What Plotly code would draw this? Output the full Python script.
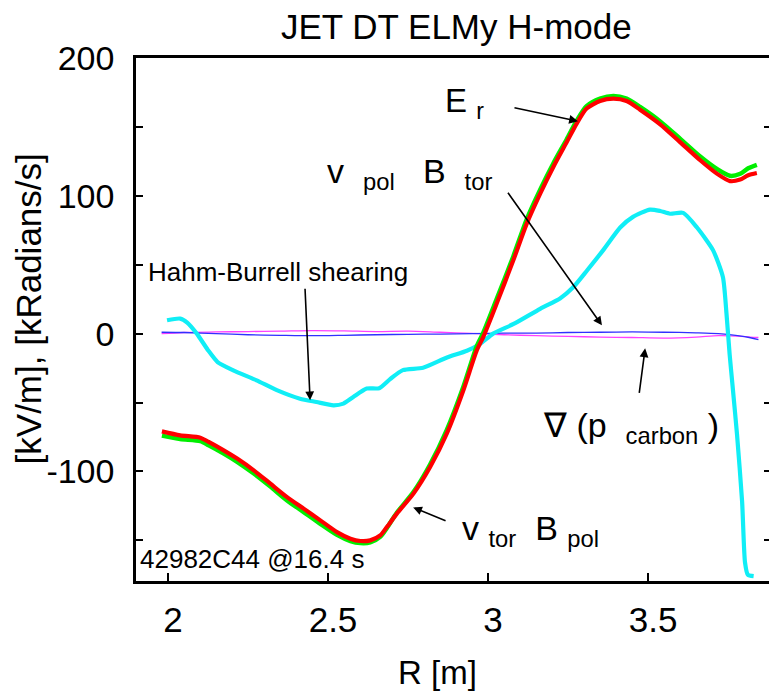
import plotly.graph_objects as go

# ---------------- data ----------------
er_x = [1.981, 2.038, 2.101, 2.127, 2.174, 2.216, 2.268, 2.32, 2.372, 2.424,
        2.476, 2.528, 2.57, 2.601, 2.632, 2.663, 2.684, 2.715, 2.767, 2.819,
        2.871, 2.923, 2.965, 2.985, 3.027, 3.079, 3.121, 3.163, 3.204, 3.246,
        3.277, 3.308, 3.35, 3.392, 3.433, 3.475, 3.538, 3.6, 3.663, 3.715,
        3.756, 3.788, 3.813, 3.84]
er_red = [-70.9, -73.8, -75.5, -78.6, -84.7, -90.7, -99.2, -108.9, -118.6, -127,
          -135.5, -144, -148.8, -150.5, -150, -146.4, -140.3, -130.6, -116.1, -96.8,
          -72.6, -41.1, -12.1, -2.5, 21.8, 53.2, 79.8, 101.6, 120.9, 139,
          152.4, 163.3, 168.8, 170.5, 168.8, 162.5, 151.9, 139, 125.8, 116.1,
          110.7, 111.8, 114.9, 116.5]
er_green = [-74, -76.5, -78, -81, -87, -93, -101.5, -111, -121, -129.5,
            -138, -146, -150.5, -152, -151.5, -147.5, -141, -130, -115, -95,
            -70, -38.5, -9, 0.5, 25, 56, 83, 104.5, 123.5, 141,
            154.5, 165, 170.5, 172.5, 170.5, 164.5, 154, 141.5, 128.5, 119.5,
            114.5, 116, 120, 122.5]

hb_x = [1.997, 2.038, 2.06, 2.09, 2.125, 2.155, 2.204, 2.277, 2.34, 2.4125,
        2.464, 2.517, 2.548, 2.579, 2.621, 2.66, 2.694, 2.734, 2.797, 2.87,
        2.934, 2.975, 3.016, 3.08, 3.163, 3.225, 3.266, 3.31, 3.36, 3.413,
        3.453, 3.506, 3.538, 3.569, 3.61, 3.653, 3.703, 3.734, 3.745, 3.755,
        3.765, 3.778, 3.794, 3.803, 3.812, 3.83]
hb_y = [9.7, 10.9, 8, 0, -12, -20.6, -26.6, -33.9, -41, -47.2,
        -49.6, -52, -50.8, -46, -39.9, -39.6, -33, -26.5, -24.8, -17.5,
        -12.4, -7.5, 0, 7, 18, 25.5, 33.6, 46, 60.6, 77,
        84.7, 90, 89, 87, 87.6, 77, 60.6, 41, 15, -15,
        -40, -73, -122, -166, -175, -176]

thin_x = [1.98, 2.05, 2.15, 2.25, 2.35, 2.45, 2.55, 2.65, 2.75, 2.85, 2.95,
          3.05, 3.15, 3.25, 3.35, 3.45, 3.55, 3.65, 3.72, 3.78, 3.82, 3.845]
vpol_btor = [1.0, 0.8, 0, -0.8, -1.2, -1.5, -1.2, -0.8, -0.5, -0.3, 0,
             0.3, 0.3, 0.8, 1.0, 1.2, 1.0, 0.6, 0, -1.5, -3, -4.4]
grad_p = [0, 0.8, 1.2, 1.5, 1.8, 2.2, 2.0, 1.5, 1.8, 1.0, 0.2,
          -0.8, -1.5, -2.0, -2.5, -2.8, -3.2, -2.5, -1.5, -1.8, -2.5, -2.8]

x_ticks = [2, 2.5, 3, 3.5]
x_tick_text = ["2", "2.5", "3", "3.5"]
y_ticks = [-100, 0, 100, 200]
y_tick_text = ["-100", "0", "100", "200"]

X_RANGE = [1.9, 3.878]
Y_RANGE = [-179.5, 200]

FONT = "Liberation Sans, Arial, sans-serif"

fig = go.Figure()
fig.add_trace(go.Scatter(x=thin_x, y=grad_p, mode="lines",
                         line=dict(color="#ff40ff", width=1.3, shape="spline", smoothing=0.8),
                         showlegend=False))
fig.add_trace(go.Scatter(x=thin_x, y=vpol_btor, mode="lines",
                         line=dict(color="#3030ff", width=1.3, shape="spline", smoothing=0.8),
                         showlegend=False))
fig.add_trace(go.Scatter(x=hb_x, y=hb_y, mode="lines",
                         line=dict(color="#10eef6", width=4.2, shape="spline", smoothing=0.6),
                         showlegend=False))
fig.add_trace(go.Scatter(x=er_x, y=er_green, mode="lines",
                         line=dict(color="#00ee00", width=4.5, shape="spline", smoothing=0.7),
                         showlegend=False))
fig.add_trace(go.Scatter(x=er_x, y=er_red, mode="lines",
                         line=dict(color="#ff0000", width=4.2, shape="spline", smoothing=0.7),
                         showlegend=False))
# invisible helper trace so the right-hand tick axis is drawn
fig.add_trace(go.Scatter(x=[None], y=[None], yaxis="y2", mode="lines",
                         showlegend=False, hoverinfo="skip"))

annots = []


def lab(text, x, y, size=33, xanchor="center", yanchor="middle"):
    annots.append(dict(text=text, x=x, y=y, xref="x", yref="y", showarrow=False,
                       xanchor=xanchor, yanchor=yanchor,
                       font=dict(family=FONT, size=size, color="black")))


NB = "\u00a0"
lab("E" + NB + "<sub>r</sub>", 2.925, 167)
lab("v" + NB + NB + "<sub>pol</sub>" + NB + NB + NB + "B" + NB + NB + "<sub>tor</sub>", 2.754, 116, size=34)
lab("Hahm-Burrell shearing", 2.344, 44.5, size=26)
lab("\u2207" + NB + "(p" + NB + NB + "<sub>carbon</sub>" + NB + ")", 3.447, -68, size=34)
lab("v" + NB + "<sub>tor</sub>" + NB + NB + "B" + NB + "<sub>pol</sub>", 3.134, -143, size=34)
lab("42982C44 @16.4 s", 2.2625, -163.8, size=26)


def arrow(x0, y0, x1, y1):
    annots.append(dict(text="", x=x1, y=y1, ax=x0, ay=y0, xref="x", yref="y",
                       axref="x", ayref="y", showarrow=True, arrowhead=2,
                       arrowsize=1.1, arrowwidth=1.6, arrowcolor="black", standoff=0))


arrow(3.078, 164.2, 3.281, 154.1)
arrow(3.059, 103.3, 3.356, 6.0)
arrow(2.428, 33.6, 2.444, -48.4)
arrow(3.472, -44.1, 3.491, -10.7)
arrow(2.872, -136.2, 2.766, -126.1)

# titles
annots.append(dict(text="JET DT ELMy H-mode", x=0.507, y=1.061, xref="paper", yref="paper",
                   showarrow=False, xanchor="center", yanchor="middle",
                   font=dict(family=FONT, size=35, color="black")))
annots.append(dict(text="R [m]", x=0.477, y=-0.174, xref="paper", yref="paper",
                   showarrow=False, xanchor="center", yanchor="middle",
                   font=dict(family=FONT, size=33, color="black")))
annots.append(dict(text="[kV/m], [kRadians/s]", x=-0.17, y=0.52, xref="paper", yref="paper",
                   showarrow=False, xanchor="center", yanchor="middle", textangle=-90,
                   font=dict(family=FONT, size=35, color="black")))

fig.update_layout(
    width=769, height=693,
    margin=dict(l=136, r=0, t=58, b=112),
    paper_bgcolor="white", plot_bgcolor="white",
    showlegend=False,
    annotations=annots,
    xaxis=dict(range=X_RANGE, tickvals=x_ticks, ticktext=x_tick_text,
               ticks="inside", ticklen=8, tickwidth=1.5, tickcolor="black",
               showline=True, linecolor="black", linewidth=2.5, mirror=True,
               showgrid=False, zeroline=False,
               ticklabelstandoff=6, ticklabelshift=5,
               tickfont=dict(family=FONT, size=35, color="black")),
    yaxis=dict(range=Y_RANGE, tickvals=y_ticks, ticktext=y_tick_text,
               ticks="inside", ticklen=7, tickwidth=1.5, tickcolor="black",
               minor=dict(dtick=50, tick0=0, ticks="inside", ticklen=7,
                          tickwidth=1.5, tickcolor="black"),
               showline=True, linecolor="black", linewidth=2.5, mirror=False,
               showgrid=False, zeroline=False,
               ticklabelstandoff=12,
               tickfont=dict(family=FONT, size=34, color="black")),
    yaxis2=dict(range=Y_RANGE, overlaying="y", side="right", anchor="x",
                dtick=50, tick0=0, ticks="inside", ticklen=5, tickwidth=1.5,
                tickcolor="black", showticklabels=False, showline=False,
                showgrid=False, zeroline=False),
)

fig.write_html("out.html")
